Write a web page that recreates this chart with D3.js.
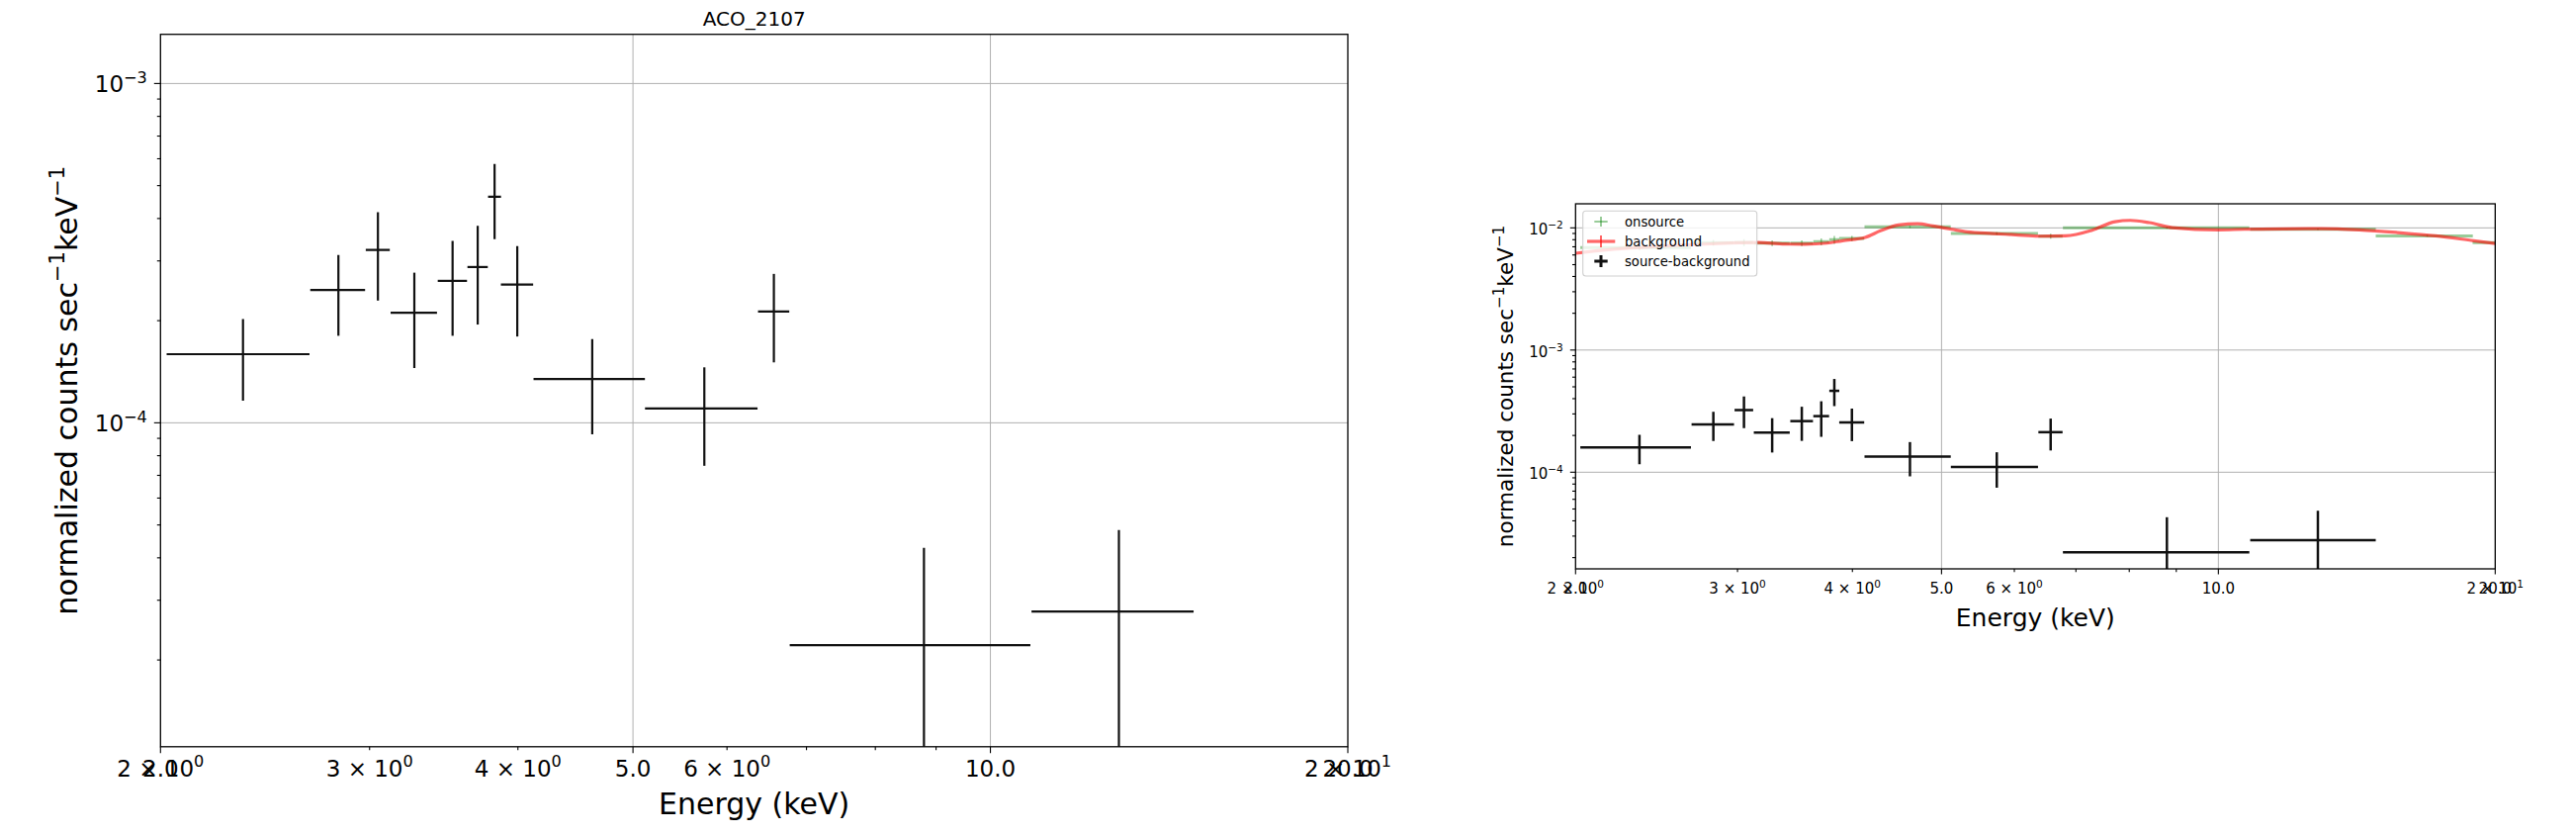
<!DOCTYPE html>
<html><head><meta charset="utf-8">
<script src="https://cdn.jsdelivr.net/npm/d3@7"></script>
<style>body{margin:0;background:#fff} svg{display:block} text{font-family:"DejaVu Sans",sans-serif;fill:#000}</style>
</head><body><svg id="c" width="2605" height="843"></svg>
<script>
// ---- data ----
const netEnergy    = [2.347, 2.824, 3.049, 3.272, 3.524, 3.700, 3.823, 3.995, 4.620, 5.742, 6.571, 8.791, 12.83];
const netEnergyErr = [0.323, 0.150, 0.071, 0.147, 0.100, 0.073, 0.048, 0.125, 0.497, 0.624, 0.199, 2.015, 2.00];
const netRate      = [1.593e-4, 2.464e-4, 3.232e-4, 2.11e-4, 2.62e-4, 2.878e-4, 4.636e-4, 2.556e-4, 1.345e-4, 1.102e-4, 2.127e-4, 2.212e-5, 2.778e-5];
const netRateErr   = [0.43e-4, 0.659e-4, 0.94e-4, 0.66e-4, 0.815e-4, 0.93e-4, 1.16e-4, 0.76e-4, 0.42e-4, 0.355e-4, 0.62e-4, 2.07e-5, 2.05e-5];

const onEnergy    = [2.347, 2.824, 3.049, 3.272, 3.524, 3.700, 3.823, 3.995, 4.620, 5.742, 6.571, 8.791, 12.83, 16.87, 20.5];
const onEnergyErr = [0.323, 0.150, 0.071, 0.147, 0.100, 0.073, 0.048, 0.125, 0.497, 0.624, 0.199, 2.015, 2.00, 2.04, 1.6];
const onRate      = [6.89e-3, 7.56e-3, 7.6e-3, 7.5e-3, 7.5e-3, 7.7e-3, 7.99e-3, 8.19e-3, 1.019e-2, 8.99e-3, 8.55e-3, 1.0e-2, 9.74e-3, 8.6e-3, 7.56e-3];
const onRateErr   = [3e-4, 4e-4, 5e-4, 4e-4, 4e-4, 5e-4, 6e-4, 4e-4, 2e-4, 2e-4, 4e-4, 1.5e-4, 1.5e-4, 1.5e-4, 2e-4];

const bgEnergy = [2.0, 2.2, 2.5, 2.8, 3.15, 3.38, 3.55, 3.75, 3.9, 4.13, 4.29, 4.49, 4.71, 4.89, 5.13, 5.33, 5.69, 6.02, 6.38, 6.82, 7.29, 7.72, 8.02, 8.41, 8.91, 9.99, 10.68, 12.93, 14.23, 15.65, 17.23, 18.95, 20.0];
const bgRate   = [6.2e-3, 6.7e-3, 7.1e-3, 7.4e-3, 7.6e-3, 7.37e-3, 7.35e-3, 7.5e-3, 7.85e-3, 8.35e-3, 9.45e-3, 1.057e-2, 1.083e-2, 1.038e-2, 9.74e-3, 9.28e-3, 8.99e-3, 8.78e-3, 8.55e-3, 8.6e-3, 9.56e-3, 1.124e-2, 1.152e-2, 1.104e-2, 1.005e-2, 9.63e-3, 9.74e-3, 9.87e-3, 9.63e-3, 9.16e-3, 8.6e-3, 7.85e-3, 7.46e-3];

const xMajorTicks  = [2, 5, 10, 20];
const xMajorLabels = ["2.0", "5.0", "10.0", "20.0"];
const xMinorTicks  = [3, 4, 6, 7, 8, 9];
const xSciTicks    = [2, 3, 4, 6, 20];
const xSciMant     = ["2", "3", "4", "6", "2"];
const xSciExp      = ["0", "0", "0", "0", "1"];
const yDecades     = [-5, -4, -3, -2];
const legendLabels = ["onsource", "background", "source-background"];

const svg = d3.select("#c");

function sciText(g, x, y, parts, size, anchor) {
  const t = g.append("text").attr("x", x).attr("y", y).attr("font-size", size).attr("text-anchor", anchor);
  t.append("tspan").text(parts[0]);
  t.append("tspan").attr("dy", -0.42 * size).attr("font-size", size * 0.7).text(parts[1]);
  return t;
}

function panel(c) {
  const g = svg.append("g");
  const x = d3.scaleLog().domain([2, 20]).range([c.x0, c.x1]);
  const y = d3.scaleLog().domain(c.ydom).range([c.y1, c.y0]);
  const id = "clip" + c.name;
  svg.append("clipPath").attr("id", id).append("rect")
    .attr("x", c.x0).attr("y", c.y0).attr("width", c.x1 - c.x0).attr("height", c.y1 - c.y0);

  // grid
  const grid = g.append("g").attr("stroke", "#b0b0b0").attr("stroke-width", 1);
  [5, 10].forEach(v => grid.append("line").attr("x1", x(v)).attr("x2", x(v)).attr("y1", c.y0).attr("y2", c.y1));
  yDecades.forEach(d => {
    const v = Math.pow(10, d);
    if (v > c.ydom[0] && v < c.ydom[1])
      grid.append("line").attr("x1", c.x0).attr("x2", c.x1).attr("y1", y(v)).attr("y2", y(v));
  });

  const data = g.append("g").attr("clip-path", `url(#${id})`);

  if (c.full) {
    // onsource
    const on = data.append("g").attr("stroke", "green").attr("stroke-opacity", 0.4).attr("stroke-width", 3);
    onEnergy.forEach((e, i) => {
      on.append("line").attr("x1", x(e - onEnergyErr[i])).attr("x2", x(e + onEnergyErr[i]))
        .attr("y1", y(onRate[i])).attr("y2", y(onRate[i]));
      on.append("line").attr("x1", x(e)).attr("x2", x(e))
        .attr("y1", y(onRate[i] + onRateErr[i])).attr("y2", y(onRate[i] - onRateErr[i])).attr("stroke-width", 1.5);
    });
    // background
    const line = d3.line().x((d, i) => x(bgEnergy[i])).y(d => y(d)).curve(d3.curveMonotoneX);
    data.append("path").attr("d", line(bgRate)).attr("fill", "none")
      .attr("stroke", "red").attr("stroke-opacity", 0.6).attr("stroke-width", 3.2);
  }

  // source - background
  const net = data.append("g").attr("stroke", "#111").attr("stroke-width", c.lw);
  netEnergy.forEach((e, i) => {
    const v = netRate[i], er = netRateErr[i];
    net.append("line").attr("x1", x(e - netEnergyErr[i])).attr("x2", x(e + netEnergyErr[i]))
      .attr("y1", y(v)).attr("y2", y(v));
    const lo = v - er > 0 ? y(v - er) : c.y1 + 20;
    net.append("line").attr("x1", x(e)).attr("x2", x(e)).attr("y1", y(v + er)).attr("y2", Math.min(lo, c.y1 + 20));
  });

  // spines
  g.append("rect").attr("x", c.x0).attr("y", c.y0).attr("width", c.x1 - c.x0).attr("height", c.y1 - c.y0)
    .attr("fill", "none").attr("stroke", "#000").attr("stroke-width", 1.3);

  // x ticks
  const tk = g.append("g").attr("stroke", "#000").attr("stroke-width", 1.1);
  xMajorTicks.forEach(v => tk.append("line").attr("x1", x(v)).attr("x2", x(v)).attr("y1", c.y1).attr("y2", c.y1 + c.majLen));
  xMinorTicks.forEach(v => tk.append("line").attr("x1", x(v)).attr("x2", x(v)).attr("y1", c.y1).attr("y2", c.y1 + c.minLen));
  xMajorTicks.forEach((v, i) => g.append("text").attr("x", x(v)).attr("y", c.y1 + c.xlabOff)
    .attr("font-size", c.tickFs).attr("text-anchor", "middle").text(xMajorLabels[i]));
  xSciTicks.forEach((v, i) => sciText(g, x(v), c.y1 + c.xlabOff, [xSciMant[i] + " × 10", xSciExp[i]], c.tickFs, "middle"));

  // y ticks
  yDecades.concat([-6]).forEach(d => {
    const v = Math.pow(10, d);
    if (v >= c.ydom[0] && v <= c.ydom[1]) {
      tk.append("line").attr("x1", c.x0 - c.majLen).attr("x2", c.x0).attr("y1", y(v)).attr("y2", y(v));
      sciText(g, c.x0 - c.majLen - 7, y(v) + c.ylabOff, ["10", "−" + (-d)], c.tickFs, "end");
    }
    for (let s = 2; s <= 9; s++) {
      const m = s * v;
      if (m > c.ydom[0] && m < c.ydom[1])
        tk.append("line").attr("x1", c.x0 - c.minLen).attr("x2", c.x0).attr("y1", y(m)).attr("y2", y(m));
    }
  });

  // axis labels
  g.append("text").attr("x", (c.x0 + c.x1) / 2).attr("y", c.xTitleY).attr("font-size", c.labFs)
    .attr("text-anchor", "middle").text("Energy (keV)");
  const yl = g.append("text").attr("transform", `translate(${c.yTitleX},${(c.y0 + c.y1) / 2}) rotate(-90)`)
    .attr("font-size", c.yLabFs).attr("text-anchor", "middle");
  yl.append("tspan").text("normalized counts sec");
  yl.append("tspan").attr("dy", -0.42 * c.yLabFs).attr("font-size", c.yLabFs * 0.7).text("−1");
  yl.append("tspan").attr("dy", 0.42 * c.yLabFs).text("keV");
  yl.append("tspan").attr("dy", -0.42 * c.yLabFs).attr("font-size", c.yLabFs * 0.7).text("−1");

  return {g, x, y};
}

const left = panel({name: "L", x0: 162.3, x1: 1363, y0: 34.7, y1: 754.8, ydom: [1.11e-5, 1.396e-3],
  lw: 2.2, majLen: 6.5, minLen: 3.5, tickFs: 23, xlabOff: 30, ylabOff: 9, labFs: 30, yLabFs: 30,
  xTitleY: 823, yTitleX: 78, full: false});
svg.append("text").attr("x", (162.3 + 1363) / 2).attr("y", 26).attr("font-size", 20)
  .attr("text-anchor", "middle").text("ACO_2107");

const right = panel({name: "R", x0: 1593.3, x1: 2523.3, y0: 206, y1: 575, ydom: [1.618e-5, 1.574e-2],
  lw: 2.5, majLen: 5.5, minLen: 3.3, tickFs: 15, xlabOff: 25, ylabOff: 7, labFs: 25, yLabFs: 21.5,
  xTitleY: 632.5, yTitleX: 1530, full: true});

// legend
const lg = svg.append("g");
lg.append("rect").attr("x", 1600.7).attr("y", 213.3).attr("width", 176).attr("height", 65.7).attr("rx", 3)
  .attr("fill", "#fff").attr("fill-opacity", 0.8).attr("stroke", "#d0d0d0").attr("stroke-width", 1.1);
const rowY = [224, 244, 264];
// onsource handle
lg.append("line").attr("x1", 1612.3).attr("x2", 1625.7).attr("y1", rowY[0]).attr("y2", rowY[0])
  .attr("stroke", "green").attr("stroke-opacity", 0.4).attr("stroke-width", 2);
lg.append("line").attr("x1", 1619).attr("x2", 1619).attr("y1", rowY[0] - 5).attr("y2", rowY[0] + 5)
  .attr("stroke", "green").attr("stroke-opacity", 0.4).attr("stroke-width", 2);
// background handle
lg.append("line").attr("x1", 1605).attr("x2", 1633.3).attr("y1", rowY[1]).attr("y2", rowY[1])
  .attr("stroke", "red").attr("stroke-opacity", 0.6).attr("stroke-width", 3.2);
lg.append("line").attr("x1", 1619).attr("x2", 1619).attr("y1", rowY[1] - 6).attr("y2", rowY[1] + 6)
  .attr("stroke", "red").attr("stroke-opacity", 0.6).attr("stroke-width", 2);
// source-background handle
lg.append("line").attr("x1", 1612.3).attr("x2", 1625.7).attr("y1", rowY[2]).attr("y2", rowY[2])
  .attr("stroke", "#111").attr("stroke-width", 3);
lg.append("line").attr("x1", 1619).attr("x2", 1619).attr("y1", rowY[2] - 6).attr("y2", rowY[2] + 6)
  .attr("stroke", "#111").attr("stroke-width", 3);
legendLabels.forEach((t, i) => lg.append("text").attr("x", 1643).attr("y", rowY[i] + 4.8)
  .attr("font-size", 13.2).text(t));
</script></body></html>
